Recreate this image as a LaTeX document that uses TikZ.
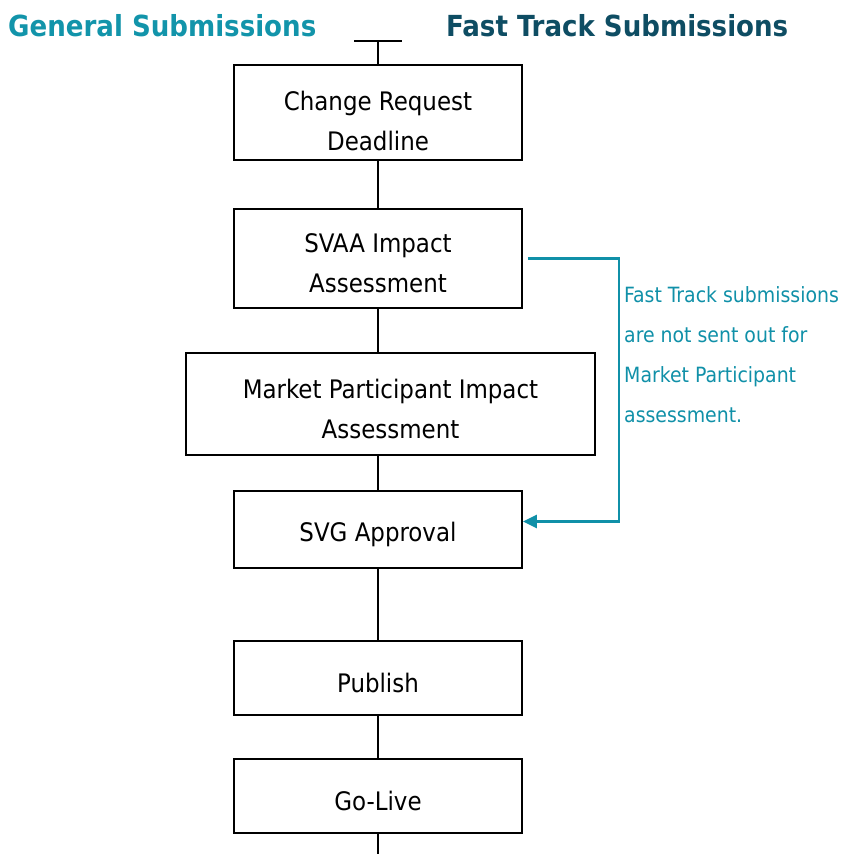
\documentclass[tikz,border=0pt]{standalone}
\usepackage{fontspec}
\setmainfont{DejaVu Sans Condensed}
\usetikzlibrary{arrows.meta}
\definecolor{gencol}{RGB}{18,148,170}
\definecolor{fastcol}{RGB}{14,77,99}
\definecolor{notecol}{RGB}{16,144,168}
\tikzset{
  stepbox/.style={draw=black, line width=1.8pt, inner sep=0pt},
  steptext/.style={inner sep=0pt, align=center, font={\fontsize{25.5}{40}\selectfont}, yshift=-5pt},
  link/.style={draw=black, line width=1.8pt},
  fastlink/.style={draw=notecol, line width=2.4pt, -{Triangle[length=14pt,width=13pt]}},
  title/.style={font={\fontsize{29}{32}\selectfont\bfseries}, inner sep=0pt},
}
\begin{document}
\begin{tikzpicture}[x=1pt,y=-1pt]
\useasboundingbox (0,0) rectangle (843,854);
\node[title, text=gencol, anchor=west] (gen) at (8,26) {General Submissions};
\node[title, text=fastcol, anchor=west] (fast) at (446,26) {Fast Track Submissions};

\node[stepbox, minimum width=288pt, minimum height=95pt] (b1) at (378,112.5) {};
\node[stepbox, minimum width=288pt, minimum height=99pt] (b2) at (378,258.5) {};
\node[stepbox, minimum width=409pt, minimum height=102pt] (b3) at (390.5,404) {};
\node[stepbox, minimum width=288pt, minimum height=77pt] (b4) at (378,529.5) {};
\node[stepbox, minimum width=288pt, minimum height=74pt] (b5) at (378,678) {};
\node[stepbox, minimum width=288pt, minimum height=74pt] (b6) at (378,796) {};

\node[steptext, yshift=-3pt] (t1) at (b1.center) {Change Request\\Deadline};
\node[steptext] (t2) at (b2.center) {SVAA Impact\\Assessment};
\node[steptext] (t3) at (b3.center) {Market Participant Impact\\Assessment};
\node[steptext] (t4) at (b4.center) {SVG Approval};
\node[steptext] (t5) at (b5.center) {Publish};
\node[steptext] (t6) at (b6.center) {Go-Live};

\coordinate (top) at (378,41);
\coordinate (topl) at (354,41);
\coordinate (topr) at (402,41);
\coordinate (bot) at (378,856);
\draw[link] (topl) -- (topr);
\draw[link] (top) -- (b1.north);
\draw[link] (b1.south) -- (b2.north);
\draw[link] (b2.south) -- (b2.south |- b3.north);
\draw[link] (b2.south |- b3.south) -- (b4.north);
\draw[link] (b4.south) -- (b5.north);
\draw[link] (b5.south) -- (b6.north);
\draw[link] (b6.south) -- (bot);

\coordinate (fs) at ([xshift=5pt]b2.east);
\coordinate (fe) at ([yshift=8pt]b4.east);
\draw[fastlink] (fs) -- (619,258.5) |- (fe);

\node[anchor=north west, align=left, text=notecol, inner sep=0pt, font={\fontsize{21}{40}\selectfont}] (note) at (624,286) {Fast Track submissions\\are not sent out for\\Market Participant\\assessment.};
\end{tikzpicture}
\end{document}
